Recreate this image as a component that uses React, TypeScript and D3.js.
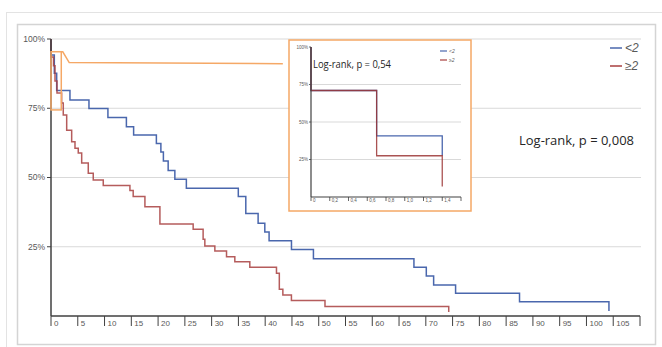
import React from "react";
import * as d3 from "d3";

// ---- Main chart data (months, survival fraction) ----
const blueTimes = [0, 0, 0.62, 1.06, 3.54, 7.09, 10.63, 14.08, 15.43, 19.68, 20.52, 20.99, 21.88, 23.13, 25.28, 34.98, 36.38, 38.68, 39.93, 40.73, 44.91, 49.01, 67.78, 70.09, 71.46, 75.56, 87.5, 104.2];
const blueSurv = [1, 0.942, 0.876, 0.814, 0.78, 0.749, 0.717, 0.683, 0.653, 0.623, 0.592, 0.56, 0.525, 0.494, 0.461, 0.431, 0.37, 0.335, 0.303, 0.272, 0.24, 0.207, 0.176, 0.144, 0.112, 0.082, 0.051, 0.018];
const redTimes = [0, 0, 0.47, 0.75, 1.12, 1.99, 2.29, 2.93, 3.86, 4.48, 5.09, 5.73, 6.96, 7.89, 9.76, 14.74, 15.35, 17.54, 20.34, 26.55, 28.41, 28.73, 30.6, 32.78, 34.33, 37.13, 42.11, 42.64, 43.3, 44.9, 51.17, 74.28];
const redSurv = [1, 0.935, 0.903, 0.848, 0.805, 0.769, 0.726, 0.671, 0.629, 0.606, 0.588, 0.552, 0.515, 0.491, 0.471, 0.453, 0.431, 0.394, 0.332, 0.313, 0.277, 0.253, 0.235, 0.214, 0.196, 0.176, 0.154, 0.097, 0.076, 0.056, 0.034, 0.014];
const xTicks = [0, 5, 10, 15, 20, 25, 30, 35, 40, 45, 50, 55, 60, 65, 70, 75, 80, 85, 90, 95, 100, 105];
const yTicks = [0.25, 0.5, 0.75, 1];
const seriesLabels = ["<2", "≥2"];
const mainPValue = "Log-rank, p = 0,008";

// zoom rectangle and callout (data coords)
const zoomRect = { t0: 0, t1: 1.92, s0: 0.744, s1: 0.954 };
const calloutT = [1.92, 2.2, 3.4, 43.3];
const calloutS = [0.954, 0.954, 0.915, 0.911];

// ---- Inset data ----
const insetBlueTimes = [0, 0, 0.7, 1.4];
const insetBlueSurv = [1, 0.71, 0.407, 0.275];
const insetRedTimes = [0, 0, 0.7, 1.4];
const insetRedSurv = [1, 0.71, 0.275, 0.07];
const insetXTicks = [0, 0.2, 0.4, 0.6, 0.8, 1.0, 1.2, 1.4];
const insetYTicks = [0.25, 0.5, 0.75, 1];
const insetPValue = "Log-rank, p = 0,54";

const BLUE = "#4a67ad";
const RED = "#a83f3f";
const ORANGE = "#f5a866";
const AXIS = "#404040";
const GRID = "#d9d9d9";
const LABEL = "#595959";

const pct = (v: number) => `${Math.round(v * 100)}%`;

export default function App() {
  const W = 662, H = 347;
  const x = d3.scaleLinear().domain([0, 110]).range([51, 640]);
  const y = d3.scaleLinear().domain([0, 1]).range([316, 39]);

  const ix = d3.scaleLinear().domain([0, 1.6]).range([311, 461]);
  const iy = d3.scaleLinear().domain([0, 1]).range([197, 47]);

  const stepLine = (xs: any, ys: any) =>
    d3.line<[number, number]>().x((d) => xs(d[0])).y((d) => ys(d[1])).curve(d3.curveStepAfter);
  const zipped = (t: number[], s: number[]) => t.map((v, i) => [v, s[i]] as [number, number]);

  const mainLine = stepLine(x, y);
  const insetLine = stepLine(ix, iy);
  const callout = d3.line<[number, number]>().x((d) => x(d[0])).y((d) => y(d[1]));

  const font = "'Liberation Sans', Arial, sans-serif";
  const calib = "'Open Sans', 'Noto Sans', sans-serif";

  return (
    <svg width={W} height={H} style={{ position: "absolute", left: 0, top: 0, background: "#fff" }}>
      {/* frames */}
      <line x1={6} y1={12.5} x2={662} y2={12.5} stroke="#e3e3e3" strokeWidth={1} />
      <line x1={6.5} y1={12} x2={6.5} y2={347} stroke="#e3e3e3" strokeWidth={1} />
      <rect x={17.5} y={24.5} width={638} height={320} fill="#fff" stroke="#d4d4d4" strokeWidth={1.5} />

      {/* gridlines */}
      {yTicks.map((v) => (
        <line key={v} x1={x(0)} x2={641} y1={y(v)} y2={y(v)} stroke={GRID} strokeWidth={1} />
      ))}

      {/* y labels + ticks */}
      {yTicks.map((v) => (
        <g key={"yl" + v}>
          <line x1={47} x2={x(0)} y1={y(v)} y2={y(v)} stroke={AXIS} strokeWidth={1} />
          <text x={45} y={y(v)} dy="0.35em" textAnchor="end" fontSize={8.5} fill={LABEL} fontFamily={font}>
            {pct(v)}
          </text>
        </g>
      ))}

      {/* x axis */}
      <line x1={x(0)} x2={x(110)} y1={y(0)} y2={y(0)} stroke={AXIS} strokeWidth={1.5} />
      {[...xTicks, 110].map((t) => (
        <line key={"xt" + t} x1={x(t)} x2={x(t)} y1={y(0)} y2={y(0) + 10} stroke={AXIS} strokeWidth={1} />
      ))}
      {xTicks.map((t) => (
        <text key={"xl" + t} x={x(t) + 3} y={y(0) + 7} dy="0.35em" fontSize={8} fill={LABEL} fontFamily={font}>
          {t}
        </text>
      ))}

      {/* curves */}
      <path d={mainLine(zipped(blueTimes, blueSurv)) || ""} fill="none" stroke={BLUE} strokeWidth={1.5} />
      <path d={mainLine(zipped(redTimes, redSurv)) || ""} fill="none" stroke={RED} strokeWidth={1.5} strokeOpacity={0.85} />

      {/* y axis */}
      <line x1={x(0)} x2={x(0)} y1={y(1)} y2={y(0)} stroke={AXIS} strokeWidth={1.5} />

      {/* zoom rectangle + callout */}
      <rect
        x={x(zoomRect.t0)}
        y={y(zoomRect.s1)}
        width={x(zoomRect.t1) - x(zoomRect.t0)}
        height={y(zoomRect.s0) - y(zoomRect.s1)}
        fill="none"
        stroke={ORANGE}
        strokeWidth={1.5}
      />
      <path d={callout(zipped(calloutT, calloutS)) || ""} fill="none" stroke={ORANGE} strokeWidth={1.5} />

      {/* legend */}
      <line x1={610} x2={622} y1={48} y2={48} stroke={BLUE} strokeWidth={1.5} />
      <text x={625} y={48} dy="0.35em" fontSize={12} fontStyle="italic" fill={LABEL} fontFamily={font}>
        {seriesLabels[0]}
      </text>
      <line x1={610} x2={622} y1={66} y2={66} stroke={RED} strokeWidth={1.5} />
      <text x={625} y={66} dy="0.35em" fontSize={12} fontStyle="italic" fill={LABEL} fontFamily={font}>
        {seriesLabels[1]}
      </text>

      <text x={519} y={140} dy="0.35em" fontSize={13} fill="#262626" fontFamily={calib} textLength={115} lengthAdjust="spacingAndGlyphs">
        {mainPValue}
      </text>

      {/* inset */}
      <rect x={289} y={40} width={182} height={171} fill="#fff" stroke={ORANGE} strokeWidth={1.5} />
      {insetYTicks.filter((v) => v < 1).map((v) => (
        <line key={"ig" + v} x1={ix(0)} x2={ix(1.6)} y1={iy(v)} y2={iy(v)} stroke={GRID} strokeWidth={1} />
      ))}
      {insetYTicks.map((v) => (
        <g key={"iyl" + v}>
          <line x1={309} x2={ix(0)} y1={iy(v)} y2={iy(v)} stroke={AXIS} strokeWidth={0.8} />
          <text x={308} y={iy(v)} dy="0.35em" textAnchor="end" fontSize={4.5} fill={LABEL} fontFamily={font}>
            {pct(v)}
          </text>
        </g>
      ))}
      <line x1={ix(0)} x2={ix(1.6)} y1={iy(0)} y2={iy(0)} stroke={AXIS} strokeWidth={1.2} />
      {[...insetXTicks, 1.6].map((t) => (
        <line key={"ixt" + t} x1={ix(t)} x2={ix(t)} y1={iy(0)} y2={iy(0) + 4} stroke={AXIS} strokeWidth={0.8} />
      ))}
      {insetXTicks.map((t) => (
        <text key={"ixl" + t} x={ix(t) + 2} y={iy(0) + 3} dy="0.35em" fontSize={4.5} fill={LABEL} fontFamily={font}>
          {t === 0 ? "0" : t.toFixed(1).replace(".", ",")}
        </text>
      ))}
      <path d={insetLine(zipped(insetBlueTimes, insetBlueSurv)) || ""} fill="none" stroke={BLUE} strokeWidth={1.3} />
      <path d={insetLine(zipped(insetRedTimes, insetRedSurv)) || ""} fill="none" stroke="#9b3535" strokeWidth={1.3} strokeOpacity={0.85} />
      <line x1={ix(0)} x2={ix(0)} y1={iy(1)} y2={iy(0)} stroke={AXIS} strokeWidth={1.2} />

      <line x1={440} x2={447} y1={51} y2={51} stroke={BLUE} strokeWidth={1.2} />
      <text x={449} y={51} dy="0.35em" fontSize={5} fontStyle="italic" fill={LABEL} fontFamily={font}>
        {seriesLabels[0]}
      </text>
      <line x1={440} x2={447} y1={60} y2={60} stroke={RED} strokeWidth={1.2} />
      <text x={449} y={60} dy="0.35em" fontSize={5} fontStyle="italic" fill={LABEL} fontFamily={font}>
        {seriesLabels[1]}
      </text>
      <text x={313} y={64} dy="0.35em" fontSize={10} fill="#262626" fontFamily={calib} textLength={78} lengthAdjust="spacingAndGlyphs">
        {insetPValue}
      </text>
    </svg>
  );
}
